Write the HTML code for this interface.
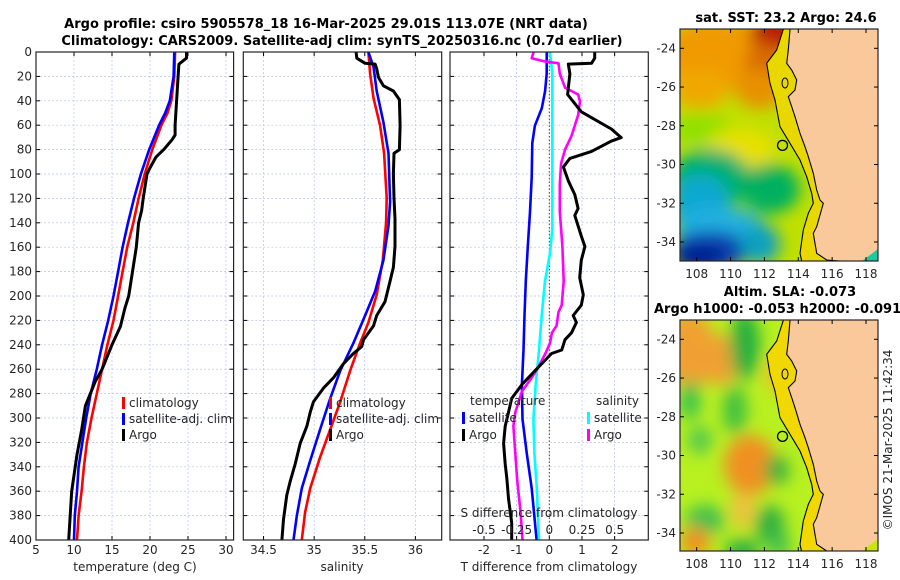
<!DOCTYPE html>
<html><head><meta charset="utf-8">
<style>
html,body{margin:0;padding:0;background:#fff;}
svg{display:block;font-family:"DejaVu Sans","Liberation Sans",sans-serif;}
.t{font-size:12px;fill:#262626;}
.b{font-size:13px;font-weight:bold;fill:#000;}
</style></head>
<body>
<svg id="fig" width="900" height="580" viewBox="0 0 900 580" xmlns="http://www.w3.org/2000/svg">
<defs>
<filter id="blur1" x="-20%" y="-20%" width="140%" height="140%"><feGaussianBlur stdDeviation="8"/></filter>
<clipPath id="clipM1"><rect x="680" y="29" width="198" height="232"/></clipPath>
<clipPath id="clipM2"><rect x="680" y="320" width="198" height="231"/></clipPath>
</defs>
<text class="b" x="326" y="28" text-anchor="middle">Argo profile: csiro 5905578_18 16-Mar-2025 29.01S 113.07E (NRT data)</text>
<text class="b" x="342" y="45" text-anchor="middle">Climatology: CARS2009. Satellite-adj clim: synTS_20250316.nc (0.7d earlier)</text>
<g id="p1"></g>
<g id="p2"></g>
<g id="p3"></g>
<g id="m1"></g>
<g id="m2"></g>
<text class="b" x="786" y="22" text-anchor="middle">sat. SST: 23.2 Argo: 24.6</text>
<text class="b" x="790" y="296" text-anchor="middle">Altim. SLA: -0.073</text>
<text class="b" x="654" y="313">Argo h1000: -0.053 h2000: -0.091</text>
<text class="t" x="892" y="440" text-anchor="middle" transform="rotate(-90 892 440)">©IMOS 21-Mar-2025 11:42:34</text>
</svg>
<script>
// ---------- data ----------
const depthTicks=[0,20,40,60,80,100,120,140,160,180,200,220,240,260,280,300,320,340,360,380,400];
const tempTicks=[5,10,15,20,25,30];
const salTicks=[34.5,35,35.5,36];
const tdiffTicks=[-2,-1,0,1,2];
const sdiffTicks=[-0.5,-0.25,0,0.25,0.5];
const sdiffTickLabels=["-0.5","-0.25","0","0.25","0.5"];

const argoTempDepth=[0,5,10,20,40,60,68,72,80,86,95,100,120,130,140,160,180,200,210,225,240,260,270,290,310,330,360,400];
const argoTemp=[24.8,24.8,23.8,23.7,23.5,23.3,23.3,22.9,21.8,20.8,20.0,19.6,19.1,18.9,18.5,18.2,17.7,17.2,16.7,16.1,15.0,13.7,12.8,11.5,11.0,10.4,9.7,9.3];
const climTempDepth=[0,20,40,50,60,80,100,120,140,160,180,200,220,240,260,280,300,320,340,360,380,400];
const climTemp=[23.3,23.2,22.8,22.3,21.5,20.3,19.3,18.5,17.8,17.0,16.4,15.8,15.2,14.4,13.7,13.0,12.3,11.7,11.3,11.0,10.6,10.4];
const satTemp=[23.2,23.1,22.6,22.0,21.2,19.9,18.8,17.9,17.1,16.4,15.8,15.2,14.5,13.7,13.0,12.2,11.6,11.1,10.6,10.4,10.1,10.0];

const argoSalDepth=[0,5.1,9.3,9.9,13.6,20.7,27.7,32,39,60.3,80.1,83,100,119.8,136.7,159.4,176.4,187.7,204.7,216,224.5,235.8,241.5,247.1,255.6,267,275.5,286.8,295.3,306.6,320.7,337.7,351.9,363.2,383,400];
const argoSal=[35.414,35.421,35.503,35.602,35.618,35.635,35.684,35.783,35.842,35.849,35.842,35.789,35.783,35.789,35.799,35.799,35.783,35.75,35.70,35.618,35.586,35.487,35.470,35.388,35.289,35.191,35.092,34.993,34.961,34.928,34.862,34.813,34.763,34.730,34.697,34.681];
const climSalDepth=[0,17.8,37.7,60.3,83,119.8,139.6,170.7,199,221.7,238.6,261.3,286.8,309.4,332.1,357.6,377.4,400];
const climSal=[35.536,35.553,35.586,35.651,35.691,35.717,35.711,35.678,35.618,35.536,35.454,35.355,35.257,35.158,35.059,34.961,34.911,34.878];
const satSalDepth=[0,12.2,32,57.5,83,122.6,142.4,170.7,196.2,216,238.6,261.3,283.9,309.4,334.9,357.6,380.2,400];
const satSal=[35.536,35.586,35.618,35.684,35.734,35.75,35.734,35.684,35.602,35.503,35.388,35.257,35.158,35.059,34.961,34.878,34.829,34.796];

const argoTdiffDepth=[0,5.1,9.3,9.9,17.8,34.8,49,63.1,70.2,73,81.5,87.2,94.3,105.6,116.9,128.3,133.9,150.9,159.4,170.7,184.9,199,207.5,216,221.7,230.2,235.8,244.3,247.1,261.3,272.6,283.9,295.3,306.6,320.7,337.7,349.1,366,385.9,400];
const argoTdiff=[1.39,1.39,1.29,0.58,0.63,0.56,0.98,1.90,2.20,1.90,1.29,0.63,0.43,0.58,0.78,0.88,0.78,0.98,1.09,0.98,0.93,1.04,0.98,0.73,0.83,0.68,0.48,0.38,0.07,-0.44,-0.84,-1.15,-1.25,-1.35,-1.40,-1.35,-1.30,-1.25,-1.15,-1.15];
const satTdiffDepth=[0,17.8,32,46.1,60.3,74.5,102.8,131.1,159.4,187.7,216,244.3,272.6,300.9,329.2,357.6,400];
const satTdiff=[-0.08,-0.08,-0.13,-0.23,-0.44,-0.52,-0.54,-0.59,-0.66,-0.72,-0.76,-0.79,-0.84,-0.82,-0.69,-0.54,-0.39];
const satSdiffDepth=[0,17.8,74.5,145.2,165,187.7,216,244.3,272.6,300.9,329.2,357.6,400];
const satSdiff=[0.005,0.023,0.023,0.023,0.005,-0.033,-0.058,-0.079,-0.104,-0.122,-0.114,-0.096,-0.079];
const argoSdiffDepth=[0,5.1,7.9,9.3,17.8,29.2,34.8,40.5,51.8,68.8,80.1,91.4,108.4,131.1,159.4,187.7,207.5,213.2,224.5,230.2,238.6,247.1,258.5,267,278.3,295.3,306.6,329.2,351.9,377.4,400];
const argoSdiff=[-0.12,-0.135,-0.03,0.07,0.08,0.12,0.22,0.235,0.22,0.17,0.12,0.09,0.08,0.08,0.1,0.11,0.095,0.07,0.055,0.02,0.005,-0.03,-0.085,-0.135,-0.21,-0.26,-0.275,-0.26,-0.245,-0.22,-0.205];

const lonTicks=[108,110,112,114,116,118];
const latTicks=[-24,-26,-28,-30,-32,-34];
const argoLon=113.07, argoLat=-29.01;

// ---------- helpers ----------
const NS="http://www.w3.org/2000/svg";
function mk(parent,tag,attrs,text){const e=document.createElementNS(NS,tag);for(const k in attrs)e.setAttribute(k,attrs[k]);if(text!==undefined)e.textContent=text;parent.appendChild(e);return e;}
const Y0=52,Y1=540;
function yD(d){return Y0+(d/400)*(Y1-Y0);}
function lin(d0,d1,r0,r1){return v=>r0+(v-d0)/(d1-d0)*(r1-r0);}

function panel(g,x0,x1,xs,ticks,labels,showY){
  mk(g,'rect',{x:x0,y:Y0,width:x1-x0,height:Y1-Y0,fill:'#fff'});
  const gr=mk(g,'g',{stroke:'#b8c0e8','stroke-width':0.7,'stroke-dasharray':'2,2'});
  
  
  depthTicks.forEach(d=>{if(d>0&&d<400)mk(gr,'line',{x1:x0,x2:x1,y1:yD(d),y2:yD(d)});});
  ticks.forEach(t=>{const x=xs(t);if(x>x0+1&&x<x1-1)mk(gr,'line',{x1:x,x2:x,y1:Y0,y2:Y1});});
  const tk=mk(g,'g',{stroke:'#000','stroke-width':1});
  depthTicks.forEach(d=>{mk(tk,'line',{x1:x0,x2:x0+4,y1:yD(d),y2:yD(d)});mk(tk,'line',{x1:x1,x2:x1-4,y1:yD(d),y2:yD(d)});});
  ticks.forEach(t=>{const x=xs(t);mk(tk,'line',{x1:x,x2:x,y1:Y1,y2:Y1-4});mk(tk,'line',{x1:x,x2:x,y1:Y0,y2:Y0+4});});
  if(showY){depthTicks.forEach(d=>{const l=mk(g,'text',{class:'t',x:x0-4,y:yD(d)+4,'text-anchor':'end'},String(d));
    
    });}
  ticks.forEach((t,i)=>{const l=mk(g,'text',{class:'t',x:xs(t),y:Y1+14,'text-anchor':'middle'},labels[i]);
    
    });
}
function series(g,xs,vals,depths,color,name,w){
  const pts=vals.map((v,i)=>xs(v).toFixed(1)+','+yD(depths[i]).toFixed(1)).join(' ');
  const p=mk(g,'polyline',{points:pts,fill:'none',stroke:color,'stroke-width':w||2.6,'stroke-linejoin':'round'});
  
  
}
function frame(g,x0,x1){mk(g,'rect',{x:x0,y:Y0,width:x1-x0,height:Y1-Y0,fill:'none',stroke:'#262626','stroke-width':1.2});}
function legendItem(g,x,y,color,text,name){
  mk(g,'rect',{x:x,y:y-10,width:3,height:12,fill:color});
  const t=mk(g,'text',{class:'t',x:x+7,y:y,fill:'#000'},text);
  
  
}

// ---------- panel 1 temperature ----------
const p1=document.getElementById('p1');
const xT=lin(5,31,36,233.6);
panel(p1,36,233.6,xT,tempTicks,tempTicks.map(String),true);
series(p1,xT,climTemp,climTempDepth,'#ff0000','clim-temp-line');
series(p1,xT,satTemp,climTempDepth,'#0000ff','sat-temp-line');
series(p1,xT,argoTemp,argoTempDepth,'#000000','argo-temp-line',3);
frame(p1,36,233.6);
legendItem(p1,122,407,'#ff0000','climatology','legend-climatology');
legendItem(p1,122,423,'#0000ff','satellite-adj. clim','legend-satellite');
legendItem(p1,122,439,'#000000','Argo','legend-argo');
const xl1=mk(p1,'text',{class:'t',x:135,y:571,'text-anchor':'middle'},'temperature (deg C)');



// ---------- panel 2 salinity ----------
const p2=document.getElementById('p2');
const xS=lin(34.3,36.26,243.3,441.7);
panel(p2,243.3,441.7,xS,salTicks,salTicks.map(String),false);
series(p2,xS,climSal,climSalDepth,'#ff0000','clim-sal-line');
series(p2,xS,satSal,satSalDepth,'#0000ff','sat-sal-line');
series(p2,xS,argoSal,argoSalDepth,'#000000','argo-sal-line',3);
frame(p2,243.3,441.7);
legendItem(p2,329,407,'#ff0000','climatology','legend-climatology-2');
legendItem(p2,329,423,'#0000ff','satellite-adj. clim','legend-satellite-2');
legendItem(p2,329,439,'#000000','Argo','legend-argo-2');
const xl2=mk(p2,'text',{class:'t',x:342,y:571,'text-anchor':'middle'},'salinity');



// ---------- panel 3 differences ----------
const p3=document.getElementById('p3');
const xTd=lin(-3.04,3.03,450,648.3);
const xSd=v=>xTd(v*4);
panel(p3,450,648.3,xTd,tdiffTicks,tdiffTicks.map(String),false);
mk(p3,'line',{x1:xTd(0),x2:xTd(0),y1:Y0,y2:Y1,stroke:'#444','stroke-width':1,'stroke-dasharray':'1.5,2'});
series(p3,xTd,satTdiff,satTdiffDepth,'#0000ff','sat-tdiff-line');
series(p3,xSd,satSdiff,satSdiffDepth,'#00ffff','sat-sdiff-line');
series(p3,xSd,argoSdiff,argoSdiffDepth,'#ff00ff','argo-sdiff-line');
series(p3,xTd,argoTdiff,argoTdiffDepth,'#000000','argo-tdiff-line',3);
frame(p3,450,648.3);
mk(p3,'text',{class:'t',x:470,y:405,fill:'#000'},'temperature');
mk(p3,'text',{class:'t',x:596,y:405,fill:'#000'},'salinity');
legendItem(p3,462,422,'#0000ff','satellite','legend-t-satellite');
legendItem(p3,462,439,'#000000','Argo','legend-t-argo');
legendItem(p3,587,422,'#00ffff','satellite','legend-s-satellite');
legendItem(p3,587,439,'#ff00ff','Argo','legend-s-argo');
mk(p3,'text',{class:'t',x:549,y:517,'text-anchor':'middle',fill:'#000'},'S difference from climatology');
sdiffTicks.forEach((t,i)=>{mk(p3,'text',{class:'t',x:xSd(t),y:534,'text-anchor':'middle',fill:'#000'},sdiffTickLabels[i]);});
const xl3=mk(p3,'text',{class:'t',x:549,y:571,'text-anchor':'middle'},'T difference from climatology');



// ---------- maps ----------
const coastPts=[[790,0.3],[788.3,21],[786.7,34.3],[791.7,41],[796.7,51],[795,61],[788.3,67.7],[791.7,77.7],[795,87.7],[800,104.3],[805,117.7],[808.3,127.7],[813.3,144.3],[816.7,161],[820,171],[823.3,174.3],[816.7,197.7],[813.3,204.3],[816.7,224.3],[826.7,231],[840,232]];
const shelfPts=[[783.3,0.3],[776.7,21],[766.7,34.3],[770,54.3],[775,71],[780,97.7],[790,114.3],[800,131],[806.7,147.7],[811.7,164.3],[813.3,174.3],[808.3,184.3],[803.3,201],[800,224.3],[801.7,232]];
function map(gid,top,h,clip,blobs,base,stripColor,cornerColor){
  const g=document.getElementById(gid);
  const L=680,R=878;
  const lonX=lin(108,118,696.7,866);
  const latY=v=>top+19.3+((-v)-24)*19.37;
  const c=mk(g,'g',{'clip-path':'url(#'+clip+')'});
  mk(c,'rect',{x:L,y:top,width:R-L,height:h,fill:base});
  const bl=mk(c,'g',{filter:'url(#blur1)'});
  blobs.forEach(b=>mk(bl,'ellipse',{cx:b[0],cy:top+b[1],rx:b[2],ry:b[3],fill:b[4]}));
  const cp=coastPts.map(p=>p[0]+','+(top+p[1])).join(' ');
  const shp=shelfPts.map(p=>p[0]+','+(top+p[1])).join(' ');
  const rev=coastPts.slice().reverse().map(p=>p[0]+','+(top+p[1])).join(' ');
  mk(c,'polygon',{points:shp+' '+rev,fill:stripColor});
  const land=mk(c,'polygon',{points:cp+' 878,'+(top+h)+' 878,'+top,fill:'#f9c89b'});
  
  
  mk(c,'polygon',{points:'862,'+(top+h)+' 878,'+(top+h-12)+' 878,'+(top+h),fill:cornerColor});
  mk(c,'polyline',{points:cp,fill:'none',stroke:'#000','stroke-width':1.1});
  mk(c,'polyline',{points:shp,fill:'none',stroke:'#000','stroke-width':1.1});
  mk(c,'ellipse',{cx:785,cy:top+54,rx:3,ry:5,fill:'none',stroke:'#000','stroke-width':1});
  const m=mk(g,'circle',{cx:lonX(argoLon),cy:latY(argoLat),r:5,fill:'none',stroke:'#000','stroke-width':1.3});
  
  
  mk(g,'rect',{x:L,y:top,width:R-L,height:h,fill:'none',stroke:'#262626','stroke-width':1.2});
  lonTicks.forEach(t=>{const x=lonX(t);
    mk(g,'line',{x1:x,x2:x,y1:top+h,y2:top+h-4,stroke:'#000'});mk(g,'line',{x1:x,x2:x,y1:top,y2:top+4,stroke:'#000'});
    const l=mk(g,'text',{class:'t',x:x,y:top+h+17,'text-anchor':'middle'},String(t));
    
    });
  latTicks.forEach(t=>{const y=latY(t);
    mk(g,'line',{x1:L,x2:L+4,y1:y,y2:y,stroke:'#000'});mk(g,'line',{x1:R,x2:R-4,y1:y,y2:y,stroke:'#000'});
    const l=mk(g,'text',{class:'t',x:L-4,y:y+4,'text-anchor':'end'},String(t));
    
    });
}
map('m1',29,232,'clipM1',[
 [720,25,60,35,'#f09a00'],[775,5,25,18,'#b81800'],[765,35,20,22,'#d86a00'],
 [700,60,30,20,'#f0a800'],[760,60,25,20,'#e89000'],
 [700,100,30,15,'#90e000'],[740,120,35,20,'#e8e000'],
 [710,150,40,30,'#00b070'],[770,160,30,25,'#00b060'],
 [700,175,30,30,'#10a8d0'],[720,200,45,22,'#20b0e0'],
 [710,222,40,20,'#0840b0'],[700,230,25,15,'#002090'],[760,215,20,20,'#10a0c0']
],'#c0e000','#e8d800','#20c8a0');
map('m2',320,231,'clipM2',[
 [690,30,25,40,'#f0a030'],[720,40,20,25,'#f0a030'],[745,25,15,35,'#20b040'],[785,55,20,20,'#f0c020'],
 [690,80,10,20,'#30c050'],[735,90,12,25,'#40c040'],[752,145,15,18,'#c05010'],[750,145,26,30,'#f09020'],
 [777,150,12,15,'#30b040'],[705,200,20,15,'#40c050'],[770,205,15,20,'#30b040'],
 [695,222,15,15,'#f09020'],[742,232,18,14,'#30b040'],[780,225,10,15,'#40c050'],
 [743,190,12,18,'#f0c040'],[700,120,12,14,'#50c850']
],'#b8f020','#f0d800','#c8e800');
</script>
</body></html>
